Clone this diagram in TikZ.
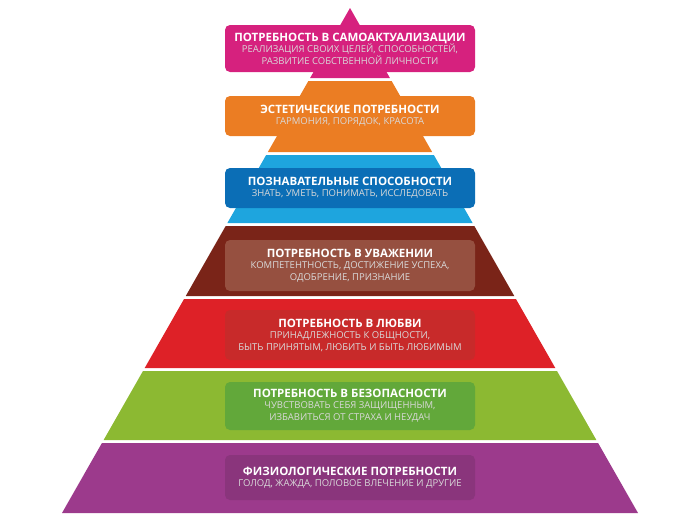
\documentclass[tikz,border=0pt]{standalone}
\usepackage{fontspec}
\setmainfont{Open Sans}
\definecolor{pink}{HTML}{D6217E}
\definecolor{orng}{HTML}{EB7D23}
\definecolor{sky}{HTML}{1EA5DE}
\definecolor{navy}{HTML}{0B6EB6}
\definecolor{brwn}{HTML}{7A2418}
\definecolor{brbox}{HTML}{965040}
\definecolor{rd}{HTML}{DE2127}
\definecolor{rdbox}{HTML}{C82A2A}
\definecolor{grn}{HTML}{8CB932}
\definecolor{grbox}{HTML}{62A83A}
\definecolor{purp}{HTML}{9C3A8C}
\definecolor{pubox}{HTML}{8A357C}
\tikzset{
    box/.style={rounded corners=5pt, minimum width=250pt, align=center, text=white, inner sep=2pt}
}
\newcommand{\hd}[1]{{\fontsize{11.5}{13}\selectfont\bfseries #1}}
\newcommand{\sbt}[1]{{\fontsize{9.5}{11}\selectfont\color{white!85!black} #1}}
% trapezoid of the pyramid between two heights
\newcommand{\pyrlayer}[3]{
    \pgfmathsetmacro{\wt}{0.5703*(#1-8)}
    \pgfmathsetmacro{\wb}{0.5703*(#2-8)}
    \fill[#3] (350-\wt,#1) -- (350+\wt,#1) -- (350+\wb,#2) -- (350-\wb,#2) -- cycle;
}
\begin{document}
\begin{tikzpicture}[x=1pt,y=-1pt]
    \useasboundingbox (0,0) rectangle (700,525);

    % Layers
    \pyrlayer{8}{78}{pink}
    \pyrlayer{81}{152}{orng}
    \pyrlayer{155}{223}{sky}
    \pyrlayer{226}{296}{brwn}
    \pyrlayer{299}{368}{rd}
    \pyrlayer{371}{440}{grn}
    \pyrlayer{443}{513}{purp}

    % Boxes
    \node (self) [box, fill=pink, minimum height=47pt] at (350,48.5)
        {\hd{ПОТРЕБНОСТЬ В САМОАКТУАЛИЗАЦИИ}\\[-1pt]
         \sbt{РЕАЛИЗАЦИЯ СВОИХ ЦЕЛЕЙ, СПОСОБНОСТЕЙ,}\\
         \sbt{РАЗВИТИЕ СОБСТВЕННОЙ ЛИЧНОСТИ}};
    \node (aest) [box, fill=orng, minimum height=40pt] at (350,116)
        {\hd{ЭСТЕТИЧЕСКИЕ ПОТРЕБНОСТИ}\\[-1pt]
         \sbt{ГАРМОНИЯ, ПОРЯДОК, КРАСОТА}};
    \node (cogn) [box, fill=navy, minimum height=40pt] at (350,188)
        {\hd{ПОЗНАВАТЕЛЬНЫЕ СПОСОБНОСТИ}\\[-1pt]
         \sbt{ЗНАТЬ, УМЕТЬ, ПОНИМАТЬ, ИССЛЕДОВАТЬ}};
    \node (estm) [box, fill=brbox, minimum height=51pt] at (350,265.5)
        {\hd{ПОТРЕБНОСТЬ В УВАЖЕНИИ}\\[-1pt]
         \sbt{КОМПЕТЕНТНОСТЬ, ДОСТИЖЕНИЕ УСПЕХА,}\\
         \sbt{ОДОБРЕНИЕ, ПРИЗНАНИЕ}};
    \node (love) [box, fill=rdbox, minimum height=50pt] at (350,335)
        {\hd{ПОТРЕБНОСТЬ В ЛЮБВИ}\\[-1pt]
         \sbt{ПРИНАДЛЕЖНОСТЬ К ОБЩНОСТИ,}\\
         \sbt{БЫТЬ ПРИНЯТЫМ, ЛЮБИТЬ И БЫТЬ ЛЮБИМЫМ}};
    \node (safe) [box, fill=grbox, minimum height=48pt] at (350,406)
        {\hd{ПОТРЕБНОСТЬ В БЕЗОПАСНОСТИ}\\[-1pt]
         \sbt{ЧУВСТВОВАТЬ СЕБЯ ЗАЩИЩЕННЫМ,}\\
         \sbt{ИЗБАВИТЬСЯ ОТ СТРАХА И НЕУДАЧ}};
    \node (phys) [box, fill=pubox, minimum height=45pt] at (350,477.5)
        {\hd{ФИЗИОЛОГИЧЕСКИЕ ПОТРЕБНОСТИ}\\[-1pt]
         \sbt{ГОЛОД, ЖАЖДА, ПОЛОВОЕ ВЛЕЧЕНИЕ И ДРУГИЕ}};
\end{tikzpicture}
\end{document}
